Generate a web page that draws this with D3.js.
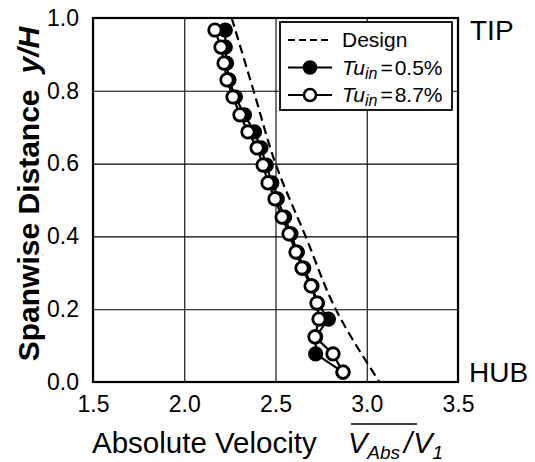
<!DOCTYPE html>
<html>
<head>
<meta charset="utf-8">
<script src="https://cdn.jsdelivr.net/npm/d3@7"></script>
<style>
  body { margin: 0; background: #fff; }
  text { font-family: "Liberation Sans", Arial, sans-serif; fill: #000; }
</style>
</head>
<body>
<script>
const w = 535;
const h = 462;

// spanwise positions y/H of the measurement points
const spanY = [0.967, 0.920, 0.876, 0.830, 0.783, 0.734, 0.687, 0.643, 0.596, 0.547, 0.503,
  0.453, 0.407, 0.357, 0.313, 0.264, 0.217, 0.173, 0.124, 0.077, 0.027];
// Tu_in = 0.5 %
const lowTu = [2.225, 2.225, 2.232, 2.245, 2.28, 2.33, 2.385, 2.42, 2.45, 2.48, 2.51,
  2.55, 2.585, 2.62, 2.655, 2.70, 2.73, 2.79, 2.72, 2.72, 2.87];
// Tu_in = 8.7 %
const highTu = [2.168, 2.201, 2.218, 2.234, 2.267, 2.305, 2.349, 2.399, 2.432, 2.459, 2.497,
  2.536, 2.574, 2.612, 2.645, 2.695, 2.727, 2.738, 2.716, 2.815, 2.870];
// design distribution
const designY = [1.0, 0.8, 0.6, 0.4, 0.2, 0.0];
const designV = [2.26, 2.38, 2.50, 2.665, 2.83, 3.07];

const xTicks = [1.5, 2.0, 2.5, 3.0, 3.5];
const yTicks = [0.0, 0.2, 0.4, 0.6, 0.8, 1.0];

const margin = { left: 93, right: 77, top: 18, bottom: 80 };
const iw = w - margin.left - margin.right;
const ih = h - margin.top - margin.bottom;

const svg = d3.select("body").append("svg").attr("width", w).attr("height", h);
const g = svg.append("g").attr("transform", `translate(${margin.left},${margin.top})`);

const x = d3.scaleLinear().domain([1.5, 3.5]).range([0, iw]);
const y = d3.scaleLinear().domain([0, 1]).range([ih, 0]);

// grid + tick labels
const yAxis = g.append("g").call(d3.axisLeft(y).tickValues(yTicks).tickFormat(d3.format(".1f")).tickSize(-iw).tickPadding(14));
const xAxis = g.append("g").attr("transform", `translate(0,${ih})`)
  .call(d3.axisBottom(x).tickValues(xTicks).tickFormat(d3.format(".1f")).tickSize(-ih).tickPadding(14));
[yAxis, xAxis].forEach((a) => {
  a.select(".domain").remove();
  a.selectAll("line").attr("stroke", "#000").attr("stroke-width", 1.1);
  a.selectAll("text").attr("font-size", 23).attr("font-family", "Liberation Sans, Arial, sans-serif");
});

// frame
g.append("rect").attr("width", iw).attr("height", ih)
  .attr("fill", "none").attr("stroke", "#000").attr("stroke-width", 2.2);

// design line
const designLine = d3.line().x((d) => x(d[1])).y((d) => y(d[0])).curve(d3.curveMonotoneY);
g.append("path").datum(designY.map((d, i) => [d, designV[i]]))
  .attr("d", designLine).attr("fill", "none").attr("stroke", "#000")
  .attr("stroke-width", 2.2).attr("stroke-dasharray", "9,5");

const line = d3.line().x((d) => x(d[1])).y((d) => y(d[0]));
function series(vals, fill) {
  const pts = spanY.map((d, i) => [d, vals[i]]);
  g.append("path").datum(pts).attr("d", line).attr("fill", "none")
    .attr("stroke", "#000").attr("stroke-width", 2.2);
  g.append("g").selectAll("circle").data(pts).enter().append("circle")
    .attr("cx", (d) => x(d[1])).attr("cy", (d) => y(d[0])).attr("r", 6.2)
    .attr("fill", fill).attr("stroke", "#000").attr("stroke-width", 2.8);
}
series(lowTu, "#000");
series(highTu, "#fff");

// legend
const lg = svg.append("g").attr("transform", "translate(280,22)");
lg.append("rect").attr("width", 172).attr("height", 88).attr("fill", "#fff")
  .attr("stroke", "#000").attr("stroke-width", 1.8);
const items = [
  { dash: true },
  { fill: "#000", label: "0.5%" },
  { fill: "#fff", label: "8.7%" }
];
items.forEach((it, i) => {
  const yy = 18 + i * 27.5;
  lg.append("line").attr("x1", 8).attr("x2", 52).attr("y1", yy).attr("y2", yy)
    .attr("stroke", "#000").attr("stroke-width", 2.2)
    .attr("stroke-dasharray", it.dash ? "7,4" : null);
  const t = lg.append("text").attr("x", 62).attr("y", yy + 7).attr("font-size", 21);
  if (it.dash) {
    t.text("Design");
  } else {
    lg.append("circle").attr("cx", 30).attr("cy", yy).attr("r", 6)
      .attr("fill", it.fill).attr("stroke", "#000").attr("stroke-width", 2.6);
    t.append("tspan").attr("font-style", "italic").text("Tu");
    t.append("tspan").attr("font-style", "italic").attr("font-size", 16).attr("dy", 4).text("in");
    t.append("tspan").attr("dy", -4).attr("dx", 3).text("=");
    t.append("tspan").attr("dx", 2).text(it.label);
  }
});

// TIP / HUB
svg.append("text").attr("x", 470).attr("y", 40).attr("font-size", 28).text("TIP");
svg.append("text").attr("x", 469).attr("y", 382).attr("font-size", 28).text("HUB");

// x axis title
svg.append("text").attr("x", 92).attr("y", 453).attr("font-size", 29.5).text("Absolute Velocity");
const vt = svg.append("text").attr("x", 348).attr("y", 453).attr("font-size", 29).attr("font-style", "italic");
vt.append("tspan").text("V");
vt.append("tspan").attr("font-size", 19).attr("dy", 6).text("Abs");
vt.append("tspan").attr("dy", -6).attr("dx", 4).text("/");
vt.append("tspan").attr("dx", 1).text("V");
vt.append("tspan").attr("font-size", 19).attr("dy", 6).text("1");
svg.append("line").attr("x1", 351).attr("x2", 417).attr("y1", 424).attr("y2", 424)
  .attr("stroke", "#000").attr("stroke-width", 1.6);

// y axis title
const yt = svg.append("text").attr("transform", "translate(39,194) rotate(-90)")
  .attr("text-anchor", "middle").attr("font-size", 30).attr("font-weight", "bold");
yt.append("tspan").text("Spanwise Distance");
yt.append("tspan").attr("dx", 16).attr("font-style", "italic").text("y/H");
</script>
</body>
</html>
